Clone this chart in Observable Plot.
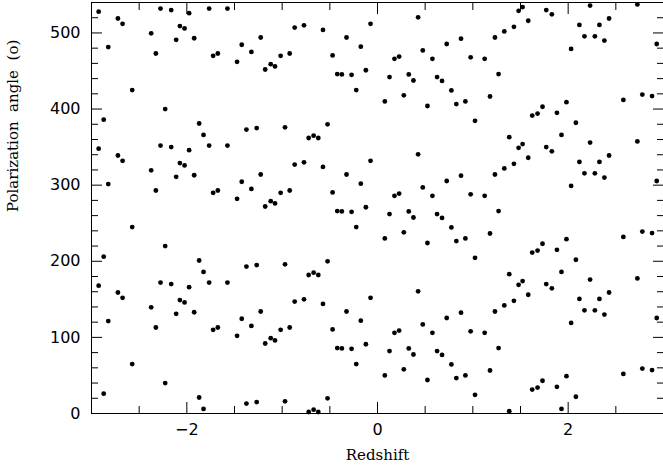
<!DOCTYPE html>
<html><head><meta charset="utf-8">
<script src="https://cdn.jsdelivr.net/npm/d3@7"></script>
<script src="https://cdn.jsdelivr.net/npm/@observablehq/plot@0.6"></script>
<style>body{margin:0;background:#fff}#chart svg{display:block}</style>
</head><body><div id="chart"></div>
<script>
// Redshift (x) and polarization angle (0–180°); each is drawn at +0, +180, +360
const redshift = [-2.925,-2.872,-2.824,-2.723,-2.674,-2.573,-2.374,-2.325,-2.276,-2.227,-2.164,-2.112,-2.073,-2.024,-1.976,-1.923,-1.871,-1.825,-1.766,-1.724,-1.675,-1.574,-1.473,-1.424,-1.375,-1.323,-1.267,-1.225,-1.178,-1.12,-1.075,-1.016,-0.97,-0.921,-0.869,-0.771,-0.722,-0.670,-0.621,-0.572,-0.524,-0.471,-0.422,-0.374,-0.325,-0.272,-0.223,-0.175,-0.122,-0.073,0.077,0.126,0.178,0.227,0.276,0.328,0.377,0.426,0.475,0.524,0.576,0.625,0.677,0.726,0.775,0.827,0.876,0.922,0.977,1.023,1.124,1.18,1.232,1.27,1.33,1.382,1.431,1.48,1.522,1.581,1.623,1.679,1.731,1.77,1.829,1.882,1.93,1.982,2.031,2.081,2.118,2.171,2.23,2.28,2.328,2.38,2.429,2.579,2.726,2.778,2.88,2.929];
const angle = [168,26,121.5,159,152,65,139.5,113,172,40,170,131,149,146,166,133,21,6,172,110,113,172,102,124.5,13,115,15,134,92,99,96,110,16,113,147,150,2,5,2,144,20,110.5,86,85.5,134,85,65,122,91,152,50,82,106,109,58,85.5,77.5,160.5,117,44,106,82,77,125.5,64.5,46.5,132.5,50,108,24.5,106,56.5,134,86,142,3,148,169,174,156,31.5,34,43,170,164.5,35,6,49,119,22,150.5,135.5,176,135.5,150.5,130,159,52,177.5,59,57,125.5];
const wraps = [0, 180, 360];
const xMajorTicks = [-2, 0, 2];
const xMinorTicks = [-2.5, -1.5, -1, -0.5, 0.5, 1, 1.5, 2.5];
const yMajorTicks = [0, 100, 200, 300, 400, 500];
const yMinorTicks = [20,40,60,80,120,140,160,180,220,240,260,280,320,340,360,380,420,440,460,480,520];
const xLabel = "Redshift";
const yLabel = "Polarization\u00a0\u00a0angle\u00a0\u00a0(o)";

const points = wraps.flatMap(w => redshift.map((z, i) => ({z, a: angle[i] + w})));

const tickFont = "DejaVu Sans, sans-serif";
const tickAxes = [];
for (const anchor of ["bottom", "top"]) {
  tickAxes.push(Plot.axisX(xMinorTicks, {anchor, tickSize: -7, fill: "none", label: null}));
  tickAxes.push(Plot.axisX(xMajorTicks, {anchor, tickSize: -11, fill: "none", label: null}));
}
for (const anchor of ["left", "right"]) {
  tickAxes.push(Plot.axisY(yMinorTicks, {anchor, tickSize: -7, fill: "none", label: null}));
  tickAxes.push(Plot.axisY(yMajorTicks, {anchor, tickSize: -11, fill: "none", label: null}));
}

const chart = Plot.plot({
  width: 663,
  height: 475,
  marginLeft: 91,
  marginRight: 0,
  marginTop: 2,
  marginBottom: 62,
  style: {fontFamily: tickFont, fontSize: "16px", color: "black", background: "white"},
  x: {domain: [-3, 3], label: null},
  y: {domain: [0, 540], label: null},
  marks: [
    Plot.frame({stroke: "black"}),
    ...tickAxes,
    Plot.axisX(xMajorTicks, {anchor: "bottom", tickSize: 0, tickPadding: 10, label: null, fontSize: 16, fill: "black"}),
    Plot.axisY(yMajorTicks, {anchor: "left", tickSize: 0, tickPadding: 11, label: null, fontSize: 16, fill: "black"}),
    Plot.dot(points, {x: "z", y: "a", r: 2.4, fill: "black"}),
    Plot.text([xLabel], {frameAnchor: "bottom", dy: 46, fontFamily: "DejaVu Serif, serif", fontSize: 15, fill: "black", ariaLabel: "xlabel"}),
    Plot.text([yLabel], {frameAnchor: "left", dx: -78, dy: 4, rotate: -90, fontFamily: "DejaVu Serif, serif", fontSize: 15, fill: "black", ariaLabel: "ylabel"})
  ]
});
d3.select(chart).selectAll("g[aria-label=xlabel] text, g[aria-label=ylabel] text").style("letter-spacing", "1.5px");
document.getElementById("chart").append(chart);
</script>
</body></html>
